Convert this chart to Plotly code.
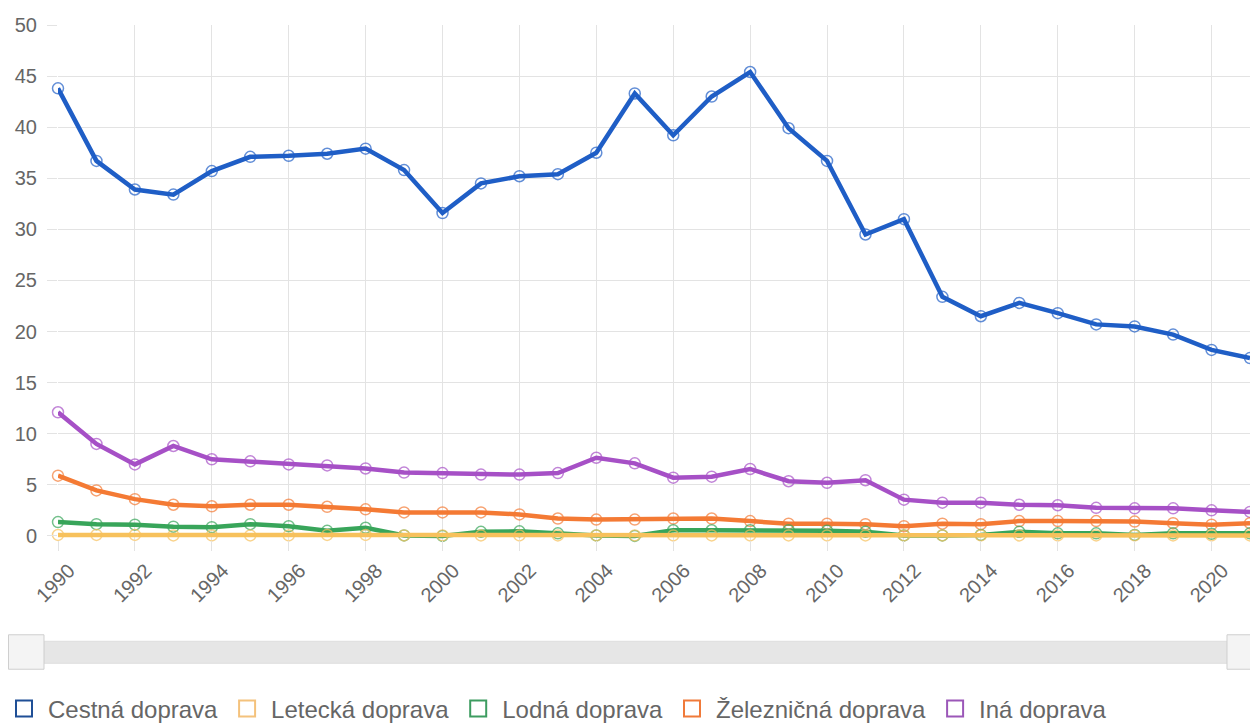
import plotly.graph_objects as go

years = list(range(1990, 2022))

cestna = [43.8, 36.7, 33.9, 33.4, 35.7, 37.1, 37.2, 37.4, 37.9, 35.8,
          31.6, 34.5, 35.2, 35.4, 37.5, 43.3, 39.2, 43.0, 45.4, 39.9,
          36.7, 29.5, 31.0, 23.4, 21.5, 22.8, 21.8, 20.7, 20.5, 19.7,
          18.2, 17.4]
letecka = [0.1, 0.1, 0.1, 0.05, 0.05, 0.05, 0.05, 0.1, 0.1, 0.05,
           0.05, 0.05, 0.05, 0.05, 0.05, 0.05, 0.05, 0.05, 0.05, 0.05,
           0.05, 0.05, 0.05, 0.05, 0.05, 0.05, 0.05, 0.05, 0.05, 0.05,
           0.05, 0.05]
lodna = [1.35, 1.15, 1.1, 0.9, 0.85, 1.15, 0.95, 0.5, 0.8, 0.05,
         0.0, 0.4, 0.45, 0.25, 0.05, 0.0, 0.55, 0.55, 0.55, 0.55,
         0.5, 0.4, 0.05, 0.05, 0.1, 0.4, 0.25, 0.25, 0.1, 0.25,
         0.2, 0.25]
zeleznicna = [5.9, 4.45, 3.6, 3.05, 2.9, 3.05, 3.05, 2.85, 2.6, 2.3,
              2.3, 2.3, 2.1, 1.7, 1.6, 1.6, 1.7, 1.7, 1.45, 1.2,
              1.2, 1.15, 0.95, 1.2, 1.15, 1.45, 1.45, 1.45, 1.4, 1.25,
              1.1, 1.25]
ina = [12.1, 9.0, 7.0, 8.8, 7.5, 7.3, 7.0, 6.9, 6.6, 6.2,
       6.15, 6.0, 6.0, 6.15, 7.65, 7.1, 5.7, 5.8, 6.55, 5.35,
       5.2, 5.45, 3.55, 3.25, 3.25, 3.05, 3.0, 2.75, 2.7, 2.7,
       2.5, 2.35]

series_names = ["Cestná doprava", "Letecká doprava", "Lodná doprava",
                "Železničná doprava", "Iná doprava"]
series_values = [cestna, letecka, lodna, zeleznicna, ina]
line_colors = ["#1f5ec6", "#f7c15c", "#38a55a", "#f47a34", "#a650c6"]
legend_colors = ["#1f4f96", "#f4c27c", "#3d9c60", "#f07a3a", "#9b57b8"]

W, H = 1250, 724
L_PX, R_PX = 58, 1250
T_PX = 24.5
Y_MIN, Y_MAX = -0.4, 50
PX_PER_UNIT = 10.222
B_PX = T_PX + (Y_MAX - Y_MIN) * PX_PER_UNIT
PLOT_H = B_PX - T_PX
PLOT_W = R_PX - L_PX


def px_x(px):
    return (px - L_PX) / PLOT_W


def px_y(py):
    return (B_PX - py) / PLOT_H


fig = go.Figure()

# draw in reverse so first series ends on top (like the reference)
for i in reversed(range(len(series_names))):
    fig.add_trace(go.Scatter(
        x=years, y=series_values[i], name=series_names[i],
        mode="lines+markers",
        line=dict(color=line_colors[i], width=4.5),
        marker=dict(symbol="circle-open", size=11, color=line_colors[i],
                    line=dict(width=1.5, color=line_colors[i]), opacity=0.7),
        legendgroup=series_names[i], showlegend=False, cliponaxis=False,
    ))

for i, name in enumerate(series_names):
    fig.add_trace(go.Scatter(
        x=[None], y=[None], name=name, mode="markers",
        marker=dict(symbol="square-open", size=16, color=legend_colors[i],
                    line=dict(width=2, color=legend_colors[i])),
        legendgroup=name, showlegend=True, legendrank=i + 1,
    ))

shapes = [
    # slider track
    dict(type="rect", xref="paper", yref="paper",
         x0=px_x(44), x1=px_x(1228), y0=px_y(663), y1=px_y(641),
         fillcolor="#e6e6e6", line=dict(color="#dedede", width=1), layer="below"),
    # left handle
    dict(type="rect", xref="paper", yref="paper",
         x0=px_x(8.5), x1=px_x(44), y0=px_y(669), y1=px_y(634.5),
         fillcolor="#f4f4f4", line=dict(color="#cfcfcf", width=1)),
    # right handle
    dict(type="rect", xref="paper", yref="paper",
         x0=px_x(1227), x1=px_x(1262), y0=px_y(669), y1=px_y(634.5),
         fillcolor="#f4f4f4", line=dict(color="#cfcfcf", width=1)),
]

font_family = "Liberation Sans, Arial, sans-serif"
grid = "#e3e3e3"

fig.update_layout(
    width=W, height=H,
    margin=dict(l=L_PX, r=W - R_PX, t=T_PX, b=H - B_PX, pad=0,
                autoexpand=False),
    paper_bgcolor="white", plot_bgcolor="white",
    font=dict(family=font_family, color="#666666", size=18),
    xaxis=dict(range=[1990, 2021], tickmode="linear", tick0=1990, dtick=2,
               tickangle=-45, showgrid=True, gridcolor=grid, gridwidth=1,
               zeroline=False, showline=False, ticks="outside", ticklen=10,
               tickcolor=grid, automargin=False, ticklabelshift=11,
               tickfont=dict(size=20, color="#666666")),
    yaxis=dict(range=[Y_MIN, Y_MAX], tickmode="linear", tick0=0, dtick=5,
               showgrid=True, gridcolor=grid, gridwidth=1,
               zeroline=False, showline=False, ticks="outside", ticklen=10,
               tickcolor=grid, ticklabelstandoff=6, automargin=False,
               tickfont=dict(size=20, color="#666666")),
    legend=dict(orientation="h", xref="container", yref="container",
                x=-6 / W, xanchor="left",
                y=1 - 709 / H, yanchor="middle",
                itemwidth=38,
                font=dict(size=24, color="#666666"),
                itemclick="toggle", bgcolor="rgba(0,0,0,0)"),
    shapes=shapes,
    showlegend=True,
)

fig.write_html(
    "out.html",
    config={"displayModeBar": False},
    post_script="document.body.style.margin='0px';"
                "document.body.style.overflow='hidden';",
)
